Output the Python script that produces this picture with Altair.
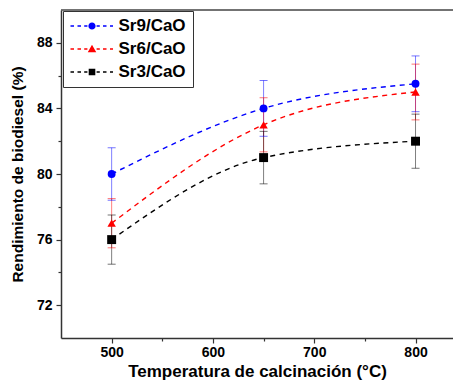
import altair as alt
import pandas as pd

# ---- data ----
series = ["Sr9/CaO", "Sr6/CaO", "Sr3/CaO"]
temps = [500, 650, 800]
sr9 = [80.0, 84.0, 85.5]
sr9_err = [1.6, 1.7, 1.7]
sr6 = [77.0, 83.0, 85.0]
sr6_err = [1.5, 1.65, 1.7]
sr3 = [76.0, 81.0, 82.0]
sr3_err = [1.5, 1.6, 1.65]
colors = ["#0000ff", "#ff0000", "#000000"]
x_tick_values = [500, 550, 600, 650, 700, 750, 800]
y_tick_values = [72, 74, 76, 78, 80, 82, 84, 86, 88]

rows = []
for name, vals, errs in zip(series, [sr9, sr6, sr3], [sr9_err, sr6_err, sr3_err]):
    for t, v, e in zip(temps, vals, errs):
        rows.append({"series": name, "temp": t, "value": v, "lo": v - e, "hi": v + e})
df = pd.DataFrame(rows)

# ---- legend symbols: dashed line with marker (custom SVG paths) ----
U = 5.0  # px per path unit for symbolSize 100
MX = 14.0  # marker centre relative to symbol centre (px)


def f(v):
    return f"{v / U:.3f}"


def dashes():
    segs = [(-21.5, -18), (-14.5, -11), (-7.8, -4.6), (4.6, 7.8), (11, 14.5), (18, 21)]
    h = 0.7
    out = []
    for a, b in segs:
        x0, x1 = MX + a, MX + b
        out.append(f"M{f(x0)},{f(-h)}L{f(x1)},{f(-h)}L{f(x1)},{f(h)}L{f(x0)},{f(h)}Z")
    return "".join(out)


def circle_path(r=3.6):
    return (f"M{f(MX - r)},0A{f(r)},{f(r)} 0 1,0 {f(MX + r)},0"
            f"A{f(r)},{f(r)} 0 1,0 {f(MX - r)},0Z")


def tri_path(w=8.5, h=7.5):
    return (f"M{f(MX)},{f(-h * 0.58)}L{f(MX + w / 2)},{f(h * 0.42)}"
            f"L{f(MX - w / 2)},{f(h * 0.42)}Z")


def sq_path(s=6.6):
    a = s / 2
    return (f"M{f(MX - a)},{f(-a)}L{f(MX + a)},{f(-a)}L{f(MX + a)},{f(a)}"
            f"L{f(MX - a)},{f(a)}Z")


legend_paths = [dashes() + circle_path(), dashes() + tri_path(), dashes() + sq_path()]

FONT = "Liberation Sans"

x_scale = alt.Scale(domain=[450, 837], nice=False, zero=False)
y_scale = alt.Scale(domain=[70, 90], nice=False, zero=False)

x_axis = alt.Axis(
    values=x_tick_values,
    format="d",
    labelExpr="datum.value % 100 == 0 ? datum.label : ''",
    tickSize={"condition": {"test": "datum.value % 100 != 0", "value": 3}, "value": 5},
    title="Temperatura de calcinación (°C)",
    titleFontSize=17,
    titlePadding=4,
    labelPadding=2,
    labelFontSize=14,
)
y_axis = alt.Axis(
    values=y_tick_values,
    format="d",
    labelExpr="datum.value % 4 == 0 ? datum.label : ''",
    tickSize={"condition": {"test": "datum.value % 4 != 0", "value": 3}, "value": 5},
    title="Rendimiento de biodiesel (%)",
    titleFontSize=15.5,
    titlePadding=11,
    labelPadding=4,
    labelFontSize=14,
)

X = alt.X("temp:Q", scale=x_scale, axis=x_axis)
color = alt.Color("series:N", scale=alt.Scale(domain=series, range=colors), legend=None)

base = alt.Chart(df)

err_rule = base.mark_rule(strokeWidth=1, opacity=0.5).encode(
    x=X, y=alt.Y("lo:Q", scale=y_scale, axis=y_axis), y2="hi:Q", color=color
)
cap_lo = base.mark_tick(orient="horizontal", size=8, thickness=1, opacity=0.55).encode(
    x=X, y=alt.Y("lo:Q", scale=y_scale, axis=y_axis), color=color
)
cap_hi = base.mark_tick(orient="horizontal", size=8, thickness=1, opacity=0.55).encode(
    x=X, y=alt.Y("hi:Q", scale=y_scale, axis=y_axis), color=color
)
lines = base.mark_line(strokeDash=[5, 4.5], strokeWidth=1.4, interpolate="monotone").encode(
    x=X, y=alt.Y("value:Q", scale=y_scale, axis=y_axis), color=color
)
points = base.mark_point(filled=True, opacity=1).encode(
    x=X,
    y=alt.Y("value:Q", scale=y_scale, axis=y_axis),
    color=color,
    shape=alt.Shape("series:N", scale=alt.Scale(domain=series, range=["circle", "triangle-up", "square"]), legend=None),
    size=alt.Size("series:N", scale=alt.Scale(domain=series, range=[62, 80, 46]), legend=None),
)

legend_def = alt.Legend(
    title=None,
    orient="none",
    legendX=2,
    legendY=1,
    padding=6.5,
    strokeColor="#333333",
    fillColor="#ffffff",
    labelFont=FONT,
    labelFontSize=17,
    labelFontWeight="bold",
    labelColor="#000000",
    labelOffset=32,
    symbolSize=100,
    symbolStrokeWidth=0,
    symbolOpacity=1,
    rowPadding=5,
)
legend_layer = base.mark_point(filled=True, opacity=0).encode(
    x=X,
    y=alt.Y("value:Q", scale=y_scale, axis=y_axis),
    fill=alt.Fill("series:N", scale=alt.Scale(domain=series, range=colors), legend=legend_def),
    shape=alt.Shape("series:N", scale=alt.Scale(domain=series, range=legend_paths), legend=legend_def),
)

top_frame = alt.Chart(pd.DataFrame({"frame": [0]})).mark_rule(
    color="#444444", strokeWidth=1.5
).encode(y=alt.value(0))

chart = (
    alt.layer(err_rule, cap_lo, cap_hi, lines, points, legend_layer, top_frame)
    .resolve_scale(shape="independent", size="independent", fill="independent")
    .properties(
        width=392,
        height=328,
        autosize=alt.AutoSizeParams(type="none"),
        padding={"left": 53, "top": 2, "right": 0, "bottom": 44},
    )
    .configure_view(strokeWidth=0)
    .configure_axis(
        grid=False,
        domainColor="#333333",
        domainWidth=1.5,
        tickColor="#333333",
        tickWidth=1.2,
        labelFont=FONT,
        labelFontWeight="bold",
        labelColor="#000000",
        titleFont=FONT,
        titleFontWeight="bold",
        titleColor="#000000",
    )
)

chart.save("out.html", embed_options={"renderer": "svg", "actions": False})
